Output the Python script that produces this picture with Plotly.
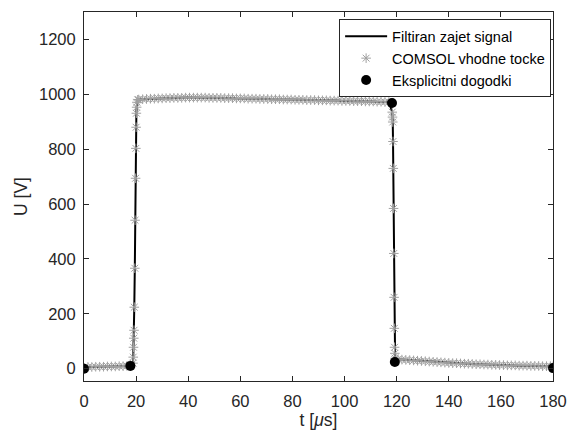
import plotly.graph_objects as go

# Time axis [µs] and voltage [V] of the COMSOL input points
t_comsol = [
    0.0, 1.5, 3.0, 4.5, 6.0, 7.5, 9.0, 10.5, 12.0, 13.5, 15.0, 16.5, 18.0,
    18.8, 18.9, 19.0, 19.1, 19.2, 19.3, 19.5, 19.6, 19.8, 19.9, 20.0, 20.1, 20.2, 20.3, 20.6,
    21.0, 22.5, 24.0, 25.5, 27.0, 28.5, 30.0, 31.5, 33.0, 34.5, 36.0, 37.5, 39.0, 40.5,
    42.0, 43.5, 45.0, 46.5, 48.0, 49.5, 51.0, 52.5, 54.0, 55.5, 57.0, 58.5, 60.0, 61.5,
    63.0, 64.5, 66.0, 67.5, 69.0, 70.5, 72.0, 73.5, 75.0, 76.5, 78.0, 79.5, 81.0, 82.5,
    84.0, 85.5, 87.0, 88.5, 90.0, 91.5, 93.0, 94.5, 96.0, 97.5, 99.0, 100.5, 102.0, 103.5,
    105.0, 106.5, 108.0, 109.5, 111.0, 112.5, 114.0, 115.5, 117.0,
    118.3, 118.4, 118.5, 118.6, 118.7, 118.8, 118.9, 119.0, 119.1, 119.2, 119.3, 119.4,
    120.5, 122.0, 123.5, 125.0, 126.5, 128.0, 129.5, 131.0, 132.5, 134.0, 135.5, 137.0,
    138.5, 140.0, 141.5, 143.0, 144.5, 146.0, 147.5, 149.0, 150.5, 152.0, 153.5, 155.0,
    156.5, 158.0, 159.5, 161.0, 162.5, 164.0, 165.5, 167.0, 168.5, 170.0, 171.5, 173.0,
    174.5, 176.0, 177.5, 179.0, 180.0,
]
u_comsol = [
    3, 6, 6, 7, 7, 7, 8, 8, 8, 9, 9, 10, 11,
    20, 42, 78, 111, 140, 224, 366, 541, 694, 803, 880, 931, 953, 971, 980,
    981, 982, 983, 984, 984, 985, 985, 986, 986, 987, 987, 987, 988, 988,
    988, 988, 988, 988, 987, 987, 987, 987, 986, 986, 986, 985, 985, 985,
    984, 984, 984, 983, 983, 983, 982, 982, 982, 981, 981, 981, 980, 980,
    980, 979, 979, 979, 978, 978, 978, 977, 977, 977, 976, 976, 976, 975,
    975, 975, 974, 974, 974, 973, 973, 972, 972,
    935, 917, 899, 828, 730, 584, 420, 260, 147, 78, 56, 38,
    34, 33, 32, 31, 30, 29, 28, 27, 26, 25, 24, 23,
    22, 21, 20, 20, 19, 18, 18, 17, 16, 16, 15, 15,
    14, 14, 13, 13, 12, 12, 12, 11, 11, 11, 10, 10,
    10, 9, 9, 9, 8,
]

# Explicit events
t_events = [0.0, 17.8, 118.2, 119.3, 180.0]
u_events = [0, 10, 968, 24, 2]

x_ticks = [0, 20, 40, 60, 80, 100, 120, 140, 160, 180]
y_ticks = [0, 200, 400, 600, 800, 1000, 1200]

axis_color = "#262626"
font_family = "Liberation Sans, Arial, Helvetica, sans-serif"

fig = go.Figure()

fig.add_trace(go.Scatter(
    x=t_comsol, y=u_comsol, mode="lines",
    line=dict(color="#000000", width=2),
    name="Filtiran zajet signal",
))
fig.add_trace(go.Scatter(
    x=t_comsol, y=u_comsol, mode="markers",
    marker=dict(symbol="asterisk-open", size=8, color="#a0a0a0",
                line=dict(color="#a0a0a0", width=1)),
    name="COMSOL vhodne tocke",
))
fig.add_trace(go.Scatter(
    x=t_events, y=u_events, mode="markers",
    marker=dict(symbol="circle", size=10, color="#000000"),
    name="Eksplicitni dogodki",
))

common_axis = dict(
    showline=True, linecolor=axis_color, linewidth=1, mirror="ticks",
    ticks="inside", ticklen=5, tickcolor=axis_color, tickwidth=1,
    showgrid=False, zeroline=False, automargin=False,
    tickfont=dict(family=font_family, size=16.5, color=axis_color),
)

fig.update_xaxes(
    range=[0, 180], tickvals=x_ticks, ticktext=[str(v) for v in x_ticks],
    ticklabelstandoff=5,
    title=dict(text="t [<i>μ</i>s]", font=dict(family=font_family, size=17.5, color=axis_color),
               standoff=4),
    **common_axis,
)
fig.update_yaxes(
    range=[-45, 1300], tickvals=y_ticks, ticktext=[str(v) for v in y_ticks],
    ticklabelstandoff=4,
    title=dict(text="U [V]", font=dict(family=font_family, size=17.5, color=axis_color),
               standoff=6),
    **common_axis,
)

fig.update_layout(
    width=573, height=435,
    margin=dict(l=84, r=20, t=12, b=54),
    plot_bgcolor="white", paper_bgcolor="white",
    showlegend=True,
    legend=dict(
        x=0.996, xanchor="right", y=0.98, yanchor="top",
        bgcolor="white", bordercolor=axis_color, borderwidth=1,
        font=dict(family=font_family, size=14.5, color="#000000"),
        itemwidth=42, tracegroupgap=0,
    ),
)

fig.write_html("out.html")
